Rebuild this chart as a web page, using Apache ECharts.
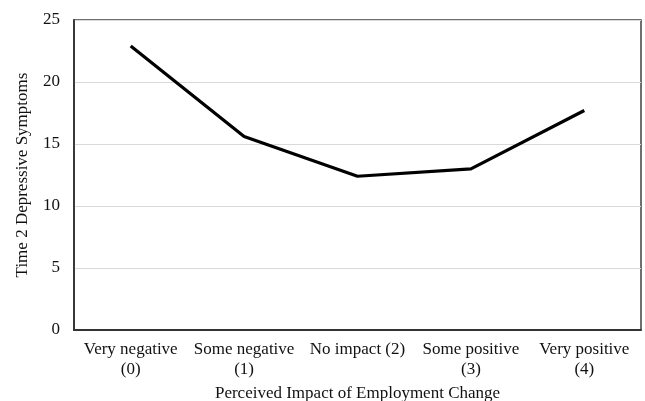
<!DOCTYPE html>
<html><head><meta charset="utf-8">
<script src="https://cdn.jsdelivr.net/npm/echarts@6/dist/echarts.min.js"></script>
<style>html,body{margin:0;padding:0;background:#fff}#c{width:645px;height:401px}</style>
</head><body><div id="c"></div>
<script>
const categories = ['Very negative\n(0)', 'Some negative\n(1)', 'No impact (2)', 'Some positive\n(3)', 'Very positive\n(4)'];
const symptoms = [22.9, 15.6, 12.4, 13.0, 17.7];
const yTicks = [0, 5, 10, 15, 20, 25];
const font = 'Liberation Serif, Times New Roman, serif';
const chart = echarts.init(document.getElementById('c'));
chart.setOption({
  animation: false,
  grid: { left: 74, right: 4, top: 20, bottom: 71, show: true, borderColor: '#404040', borderWidth: 1.5, containLabel: false, outerBoundsMode: 'none' },
  xAxis: {
    type: 'category', data: categories, boundaryGap: true,
    name: 'Perceived Impact of Employment Change', nameLocation: 'middle', nameGap: 54,
    nameTextStyle: { fontFamily: font, fontSize: 17, color: '#111' },
    axisLine: { show: true, lineStyle: { color: '#333', width: 1.8 } },
    axisTick: { show: false },
    axisLabel: { fontFamily: font, fontSize: 17, color: '#111', interval: 0, margin: 10, lineHeight: 20 }
  },
  yAxis: {
    type: 'value', min: yTicks[0], max: yTicks[yTicks.length - 1], interval: 5,
    name: 'Time 2 Depressive Symptoms', nameLocation: 'middle', nameGap: 43,
    nameTextStyle: { fontFamily: font, fontSize: 17, color: '#111' },
    axisLine: { show: true, lineStyle: { color: '#333', width: 1.8 } },
    axisTick: { show: false },
    axisLabel: { fontFamily: font, fontSize: 17, color: '#111', margin: 14 },
    splitLine: { show: true, lineStyle: { color: '#d9d9d9', width: 1.2 } }
  },
  series: [{
    type: 'line', data: symptoms, symbol: 'none',
    lineStyle: { color: '#000', width: 3.2 }
  }]
});
</script></body></html>
